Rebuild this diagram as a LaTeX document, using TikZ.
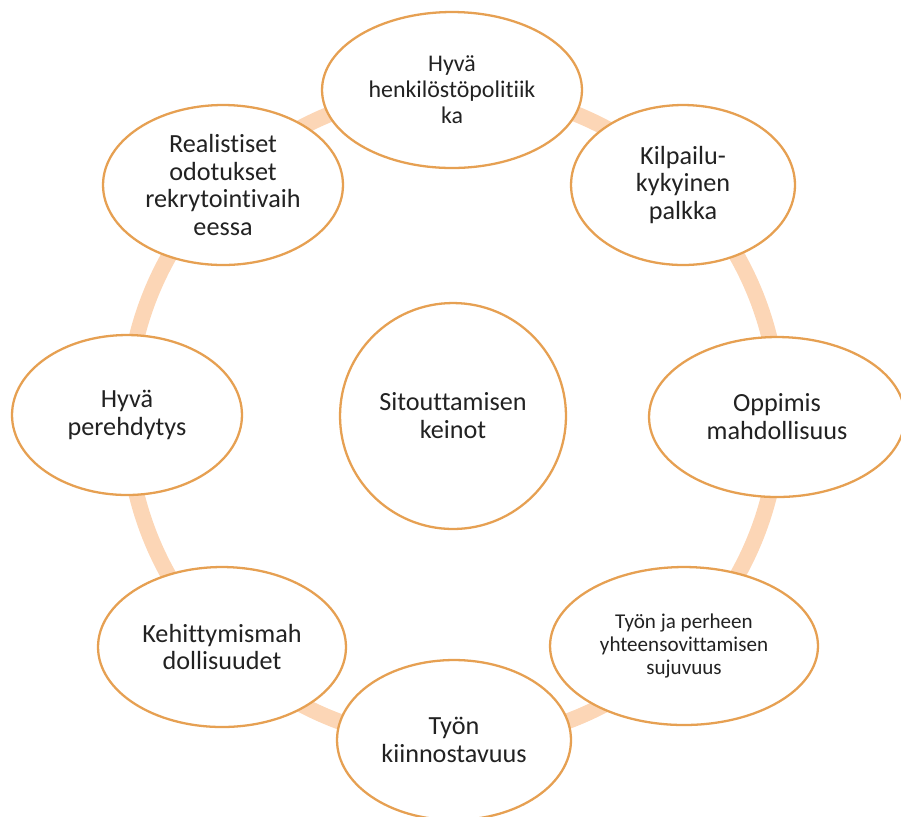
\documentclass[tikz,border=0pt]{standalone}
\usepackage{fontspec}
\setmainfont{Carlito}[Ligatures={NoCommon}]
\usepackage{xcolor}
\usepackage{tikz}
\usetikzlibrary{shapes.geometric}
\definecolor{ringpeach}{HTML}{FCD6B6}
\definecolor{edgeorange}{HTML}{E6A052}
\definecolor{txtgray}{HTML}{222222}

\begin{document}
\begin{tikzpicture}[
  x=0.02cm, y=-0.02cm,
  item/.style={ellipse, draw=edgeorange, line width=1.3pt, fill=white,
    align=center, inner sep=0pt, text=txtgray,
    font=\fontsize{14.9}{15.9}\selectfont},
  hub/.style={item, circle, minimum size=4.52cm},
  smalltext/.style={font=\fontsize{13.6}{14.8}\selectfont},
  tinytext/.style={font=\fontsize{12}{13.2}\selectfont},
  ring/.style={draw=ringpeach, line width=9pt},
]
\useasboundingbox (0,0) rectangle (901,816);
\coordinate (mid) at (453,416);
\draw[ring] (mid) circle (6.52cm);
\node[hub] (keinot) at (mid) {Sitouttamisen\\keinot};
\node[item, smalltext, minimum width=5.2cm, minimum height=3.12cm] (politiikka) at (452,90) {Hyvä\\henkilöstöpolitiik\\ka};
\node[item, minimum width=4.48cm, minimum height=3.2cm] (palkka) at (683,185) {Kilpailu-\\kykyinen\\palkka};
\node[item, minimum width=5.12cm, minimum height=3.2cm] (oppimis) at (777,417) {Oppimis\\mahdollisuus};
\node[item, tinytext, minimum width=5.36cm, minimum height=3.16cm] (perhe) at (684,646) {Työn ja perheen\\yhteensovittamisen\\sujuvuus};
\node[item, minimum width=4.68cm, minimum height=3.2cm] (kiinnostus) at (454,740) {Työn\\kiinnostavuus};
\node[item, minimum width=4.96cm, minimum height=3.2cm] (kehitys) at (222,647) {Kehittymismah\\dollisuudet};
\node[item, minimum width=4.6cm, minimum height=3.2cm] (perehdytys) at (127,415) {Hyvä\\perehdytys};
\node[item, minimum width=4.8cm, minimum height=3.2cm] (odotukset) at (223,185) {Realistiset\\odotukset\\rekrytointivaih\\eessa};
\end{tikzpicture}
\end{document}
